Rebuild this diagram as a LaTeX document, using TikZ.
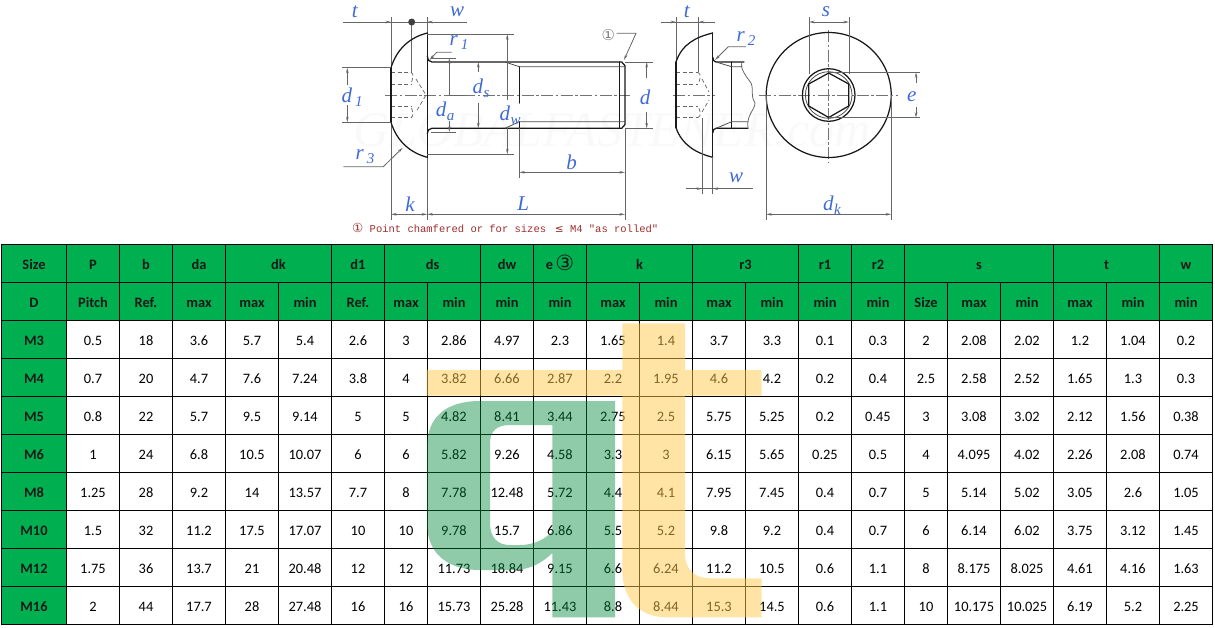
\documentclass[tikz,border=0pt]{standalone}
\usepackage{fontspec}
\setmainfont{Carlito}
\newfontfamily\serifl{Liberation Serif}
\newfontfamily\monol{Liberation Mono}
\newfontfamily\dejav{DejaVu Sans}
\usetikzlibrary{arrows.meta}
\definecolor{hdrgreen}{RGB}{0,176,80}
\definecolor{lblblue}{RGB}{62,105,215}
\definecolor{notered}{RGB}{160,45,45}
\definecolor{ovgreen}{RGB}{0,136,57}
\definecolor{ovyellow}{RGB}{255,201,77}
\newcommand{\lab}[2]{{\serifl\itshape #1\kern0.5pt\raisebox{-4pt}{\fontsize{15}{15}\selectfont #2}}}
\newcommand{\labs}[1]{{\serifl\itshape #1}}
\newcommand{\colc}[1]{\csname cc#1\endcsname}
\tikzset{
  outline/.style={draw=black!90,line width=1.25pt,line cap=round,line join=round},
  thinout/.style={draw=black!70,line width=0.8pt},
  dimln/.style={draw=black!60,line width=0.8pt},
  centerln/.style={draw=black!55,line width=0.75pt,dash pattern=on 12pt off 2.5pt on 2.5pt off 2.5pt},
  sockdash/.style={draw=black!60,line width=0.7pt,dash pattern=on 4pt off 2.5pt},
  arr/.style={-{Stealth[length=5.5pt,width=2.6pt]}},
  rarr/.style={{Stealth[length=5.5pt,width=2.6pt]}-{Stealth[length=5.5pt,width=2.6pt]}},
  lbl/.style={text=lblblue,inner sep=0pt,font=\fontsize{21}{21}\selectfont},
  cell/.style={anchor=base,inner sep=0pt,text=black,font=\fontsize{14.4}{15}\selectfont},
  hcell/.style={anchor=base,inner sep=0pt,text=black!90,font=\fontsize{14.4}{15}\selectfont\bfseries},
  grid/.style={draw=black,line width=1.3pt},
}
\begin{document}
\begin{tikzpicture}[x=1pt,y=-1pt]
\useasboundingbox (0,0) rectangle (1215,627);
\foreach \c [count=\i from 0] in {34,93,146,199,252,305,358,406,454,507,560,613,666,719,772,825,878,926,974,1027,1080,1133,1186}
  \expandafter\xdef\csname cc\i\endcsname{\c};
% watermark
\node[inner sep=0pt,text=black!2.5,font=\fontsize{50}{50}\selectfont\serifl\itshape] (wm) at (612,130) {GLOBALFASTENER.com};
% ---------- left view ----------
\foreach \xx in {391,427.3} \draw[dimln] (\xx,17) -- (\xx,220);
\draw[dimln] (625,128) -- (625,220);
\draw[centerln] (385,95) -- (630,95);
% socket
\foreach \yy in {72.3,84,106.5,117.8} \draw[sockdash] (391,\yy) -- (411,\yy);
\draw[sockdash] (411,72.3) .. controls (414,74) and (413,78) .. (411,84);
\draw[sockdash] (411,117.8) .. controls (414,116) and (413,112) .. (411,106.5);
\draw[sockdash] (416,79) -- (426,95) -- (416,112);
\draw[dimln] (411.7,22) -- (411.7,72);
% top t/w
\draw[dimln] (343,22) -- (467,22);
\draw[dimln,arr] (375,22) -- (391,22);
\draw[dimln,arr] (443,22) -- (427.3,22);
\fill[black!75] (411.7,22) circle (3.5);
\node[lbl] (tl) at (354.7,12) {\labs{t}};
\node[lbl] (wl) at (457,12) {\labs{w}};
% head
\draw[outline] (391,67.7) -- (391,122.3);
\draw[outline] (391,67.7) .. controls (397,48) and (411,37) .. (427.3,33);
\draw[outline] (391,122.3) .. controls (397,142) and (411,153) .. (427.3,157.3);
\draw[outline] (427.3,33) -- (427.3,157.3);
% shank
\draw[outline] (427.3,56) .. controls (428,60) and (429,62) .. (432,62) -- (621.7,62) -- (625,65.7) -- (625,124.5) -- (621.7,128.3) -- (432,128.3) .. controls (429,128.3) and (428,130) .. (427.3,134);
\draw[outline] (619.3,62) -- (619.3,128.3);
\draw[outline] (519.3,66.7) -- (519.3,103);
\draw[outline] (519.3,121.7) -- (519.3,128.3);
\draw[thinout] (505,62) -- (519.3,66.7) -- (625,66.7);
\draw[thinout] (505,128.3) -- (519.3,121.7) -- (625,121.7);
% r1
\draw[dimln,arr] (451.7,52.3) -- (436.7,52.3) -- (429.5,60);
\node[lbl] (r1) at (459,43) {\lab{r}{\,1}};
% da
\draw[dimln] (431,58) -- (456,58);
\draw[dimln] (431,132) -- (456,132);
\draw[dimln,arr] (449.3,95) -- (449.3,58);
\draw[dimln] (449.3,95) -- (465,95);
\draw[dimln,arr] (449.3,121) -- (449.3,132);
\node[lbl] (da) at (445,111) {\lab{d}{a}};
% ds
\draw[dimln,arr] (478.3,72) -- (478.3,62);
\draw[dimln,arr] (478.3,103) -- (478.3,128.3);
\node[lbl] (ds) at (481,88.5) {\lab{d}{s}};
% dw
\draw[dimln] (427.3,34.3) -- (513.5,34.3);
\draw[dimln] (427.3,154.3) -- (513.5,154.3);
\draw[dimln,arr] (507.3,100) -- (507.3,34.3);
\draw[dimln,arr] (507.3,128) -- (507.3,154.3);
\node[lbl] (dw) at (510,115) {\lab{d}{w}};
% d
\draw[dimln] (625,62) -- (653,62);
\draw[dimln] (625,128.3) -- (653,128.3);
\draw[dimln,arr] (646.7,78) -- (646.7,62);
\draw[dimln,arr] (646.7,112) -- (646.7,128.3);
\node[lbl] (dd) at (645,97) {\labs{d}};
% d1
\draw[dimln] (342,67.7) -- (391,67.7);
\draw[dimln] (342,122.3) -- (391,122.3);
\draw[dimln,arr] (347.3,85) -- (347.3,67.7);
\draw[dimln,arr] (347.3,105) -- (347.3,122.3);
\node[lbl] (d1) at (352,97) {\lab{d}{\,1}};
% r3
\draw[dimln,arr] (343.3,166.7) -- (383.3,166.7) -- (402.7,147.7);
\node[lbl] (r3) at (365,157) {\lab{r}{\,3}};
% k, L, b
\draw[dimln,rarr] (391,214.3) -- (427.3,214.3);
\draw[dimln,rarr] (427.3,214.3) -- (625,214.3);
\draw[dimln] (519.3,128.3) -- (519.3,178);
\draw[dimln,rarr] (519.3,172.3) -- (625,172.3);
\node[lbl] (kl) at (410,204) {\labs{k}};
\node[lbl] (Ll) at (523.3,204) {\labs{L}};
\node[lbl] (bl) at (571.7,162) {\labs{b}};
% circled 1
\node[inner sep=0pt,text=black!50,font=\fontsize{15}{15}\selectfont\dejav] (c1) at (608.3,35.5) {①};
\draw[dimln,arr] (616.7,33.3) -- (636,33.3) -- (624,60);
% note
\node[inner sep=0pt,anchor=base west,text=notered,font=\fontsize{10.5}{11}\selectfont\monol] (note) at (352,232.5) {{\dejav\fontsize{12.5}{12}\selectfont ①} Point chamfered or for sizes\kern2.5pt{} {\dejav ≤} M4 "as rolled"};
% ---------- middle view ----------
\draw[dimln] (676,17) -- (676,62);
\draw[dimln] (698.7,17) -- (698.7,72);
\draw[dimln] (660.7,22) -- (715,22);
\draw[dimln,arr] (662,22) -- (676,22);
\draw[dimln,arr] (715,22) -- (698.7,22);
\node[lbl] (t2) at (686.7,12) {\labs{t}};
\draw[centerln] (673,95) -- (715,95);
\foreach \yy in {72.3,84,106.5,117.7} \draw[sockdash] (676,\yy) -- (698,\yy);
\draw[sockdash] (698,72.3) .. controls (702,74) and (700,80) .. (698,84);
\draw[sockdash] (698,117.7) .. controls (702,116) and (700,110) .. (698,106.5);
\draw[sockdash] (702,79) -- (709,92);
\draw[sockdash] (702,112) -- (709,100);
\draw[outline] (676,62) -- (676,127.7);
\draw[outline] (676,62) .. controls (682,44) and (696,37) .. (712.7,33);
\draw[outline] (676,127.7) .. controls (682,145) and (696,153) .. (712.7,157.3);
\draw[outline] (712.7,33) -- (712.7,157.3);
\draw[outline] (712.7,57) .. controls (713,60) and (714,62) .. (716,62) -- (744,62);
\draw[outline] (712.7,133) .. controls (713,130) and (714,128.3) .. (716,128.3) -- (748,128.3);
\draw[outline] (731.7,62) -- (731.7,128.3);
\draw[thinout] (716,62) -- (731.7,66.7) -- (742,66.7);
\draw[thinout] (716,128.3) -- (731.7,121.7) -- (748,121.7);
\draw[dimln] (741.7,62) .. controls (740,68) and (745,75) .. (751,83) .. controls (754,90) and (750,95) .. (755,103) .. controls (755,110) and (746,115) .. (748,128.3);
\draw[dimln,arr] (746,46.7) -- (728.3,46.7) -- (715,60);
\node[lbl] (r2) at (746,38.5) {\lab{r}{\,2}};
\draw[dimln] (702,118) -- (702,194);
\draw[dimln] (712.7,157) -- (712.7,194);
\draw[dimln] (685.7,188.7) -- (753,188.7);
\draw[dimln,arr] (688,188.7) -- (702,188.7);
\draw[dimln,arr] (727,188.7) -- (712.7,188.7);
\node[lbl] (w2) at (736,177.5) {\labs{w}};
% ---------- head view ----------
\draw[centerln] (759,95) -- (898,95);
\draw[centerln] (828.7,30) -- (828.7,163);
\draw[outline] (828.7,95) circle (62.5);
\draw[outline] (828.7,95) circle (26.3);
\draw[thinout] (828.7,95) circle (23.3);
\draw[outline] (828.7,73) -- (848.7,84) -- (848.7,106) -- (828.7,117.5) -- (808.7,106) -- (808.7,84) -- cycle;
\foreach \xx in {809,849} \draw[dimln] (\xx,17) -- (\xx,74);
\draw[dimln,rarr] (809,22) -- (849,22);
\node[lbl] (sl) at (826,12) {\labs{s}};
\draw[dimln] (829,72.3) -- (920,72.3);
\draw[dimln] (829,117.7) -- (920,117.7);
\draw[dimln,arr] (916,83) -- (916,72.3);
\draw[dimln,arr] (916,107) -- (916,117.7);
\node[lbl] (el) at (911.7,97) {\labs{e}};
\foreach \xx in {766.2,891.2} \draw[dimln] (\xx,95) -- (\xx,220);
\draw[dimln,rarr] (766.2,214.3) -- (891.2,214.3);
\node[lbl] (dk) at (832,205) {\lab{d}{k}};
% ---------- table ----------
\fill[hdrgreen] (1.5,244.5) rectangle (1212.5,320.5);
\fill[hdrgreen] (1.5,320.5) rectangle (66.5,624.5);
% grid: horizontals
\foreach \yy in {244.5,282.5,320.5,358.5,396.5,434.5,472.5,510.5,548.5,586.5,624.5}
  \draw[grid,line cap=rect] (1.5,\yy) -- (1212.5,\yy);
% verticals full height
\foreach \xx in {1.5,66.5,119.5,172.5,225.5,331.5,384.5,480.5,533.5,586.5,692.5,798.5,851.5,904.5,1053.5,1159.5,1212.5}
  \draw[grid] (\xx,244.5) -- (\xx,624.5);
% verticals below the merged header cells
\foreach \xx in {278.5,427.5,639.5,745.5,947.5,1000.5,1106.5}
  \draw[grid] (\xx,282.5) -- (\xx,624.5);
% first header row
\foreach \xc/\t/\nm in {34/Size/a,93/P/b,146/b/c,199/da/d,278.5/dk/e,358/d1/f,432.5/ds/g,507/dw/h,639.5/k/j,745.5/r3/k,825/r1/l,878/r2/m,979/s/n,1106.5/t/o,1186/w/p}
  \node[hcell] (h1\nm) at (\xc,269.5) {\t};
\node[hcell] (h1i) at (560,269.5) {e\,{\dejav\fontsize{21}{21}\selectfont\mdseries\raisebox{-1pt}{③}}};
% second header row
\foreach \t [count=\i from 0] in {D,Pitch,Ref.,max,max,min,Ref.,max,min,min,min,max,min,max,min,min,min,Size,max,min,max,min,min}
  \node[hcell] (h2c\i) at (\colc{\i},307.5) {\t};
% data
\foreach \rr/\by/\vals in {
 0/345.5/{M3,0.5,18,3.6,5.7,5.4,2.6,3,2.86,4.97,2.3,1.65,1.4,3.7,3.3,0.1,0.3,2,2.08,2.02,1.2,1.04,0.2},
 1/383.5/{M4,0.7,20,4.7,7.6,7.24,3.8,4,3.82,6.66,2.87,2.2,1.95,4.6,4.2,0.2,0.4,2.5,2.58,2.52,1.65,1.3,0.3},
 2/421.5/{M5,0.8,22,5.7,9.5,9.14,5,5,4.82,8.41,3.44,2.75,2.5,5.75,5.25,0.2,0.45,3,3.08,3.02,2.12,1.56,0.38},
 3/459.5/{M6,1,24,6.8,10.5,10.07,6,6,5.82,9.26,4.58,3.3,3,6.15,5.65,0.25,0.5,4,4.095,4.02,2.26,2.08,0.74},
 4/497.5/{M8,1.25,28,9.2,14,13.57,7.7,8,7.78,12.48,5.72,4.4,4.1,7.95,7.45,0.4,0.7,5,5.14,5.02,3.05,2.6,1.05},
 5/535.5/{M10,1.5,32,11.2,17.5,17.07,10,10,9.78,15.7,6.86,5.5,5.2,9.8,9.2,0.4,0.7,6,6.14,6.02,3.75,3.12,1.45},
 6/573.5/{M12,1.75,36,13.7,21,20.48,12,12,11.73,18.84,9.15,6.6,6.24,11.2,10.5,0.6,1.1,8,8.175,8.025,4.61,4.16,1.63},
 7/611.5/{M16,2,44,17.7,28,27.48,16,16,15.73,25.28,11.43,8.8,8.44,15.3,14.5,0.6,1.1,10,10.175,10.025,6.19,5.2,2.25}} {
  \foreach \v [count=\i from 0] in \vals {
    \ifnum\i=0
      \node[hcell] (r\rr c\i) at (\colc{\i},\by) {\v};
    \else
      \node[cell] (r\rr c\i) at (\colc{\i},\by) {\v};
    \fi
  }
}
% watermark letters over the table
\fill[ovgreen,opacity=0.44,even odd rule]
  (615,401) -- (480,401) .. controls (445,401) and (427,418) .. (427,447) -- (427,523) .. controls (427,553) and (447,570) .. (480,570) -- (512,570) .. controls (530,570) and (542,563) .. (552.3,553) -- (552.3,617.3) -- (615,617.3) -- cycle
  (552.3,425) -- (510,425) .. controls (497,425) and (490,431) .. (490,443) -- (490,523) .. controls (490,538) and (498,545) .. (510,545) -- (520,545) .. controls (533,545) and (544,540) .. (552.3,531.7) -- cycle;
\fill[ovyellow,opacity=0.5]
  (622.3,323.3) -- (685,323.3) -- (685,370) -- (761.7,370) -- (761.7,395.7) -- (685,395.7) -- (685,553) .. controls (685,570) and (695,578.3) .. (710,578.3) -- (761.7,578.3) -- (761.7,617.3) -- (667,617.3) .. controls (640,617.3) and (622.3,600) .. (622.3,570) -- (622.3,395.7) -- (426.7,395.7) -- (426.7,370) -- (622.3,370) -- cycle;
\end{tikzpicture}
\end{document}
